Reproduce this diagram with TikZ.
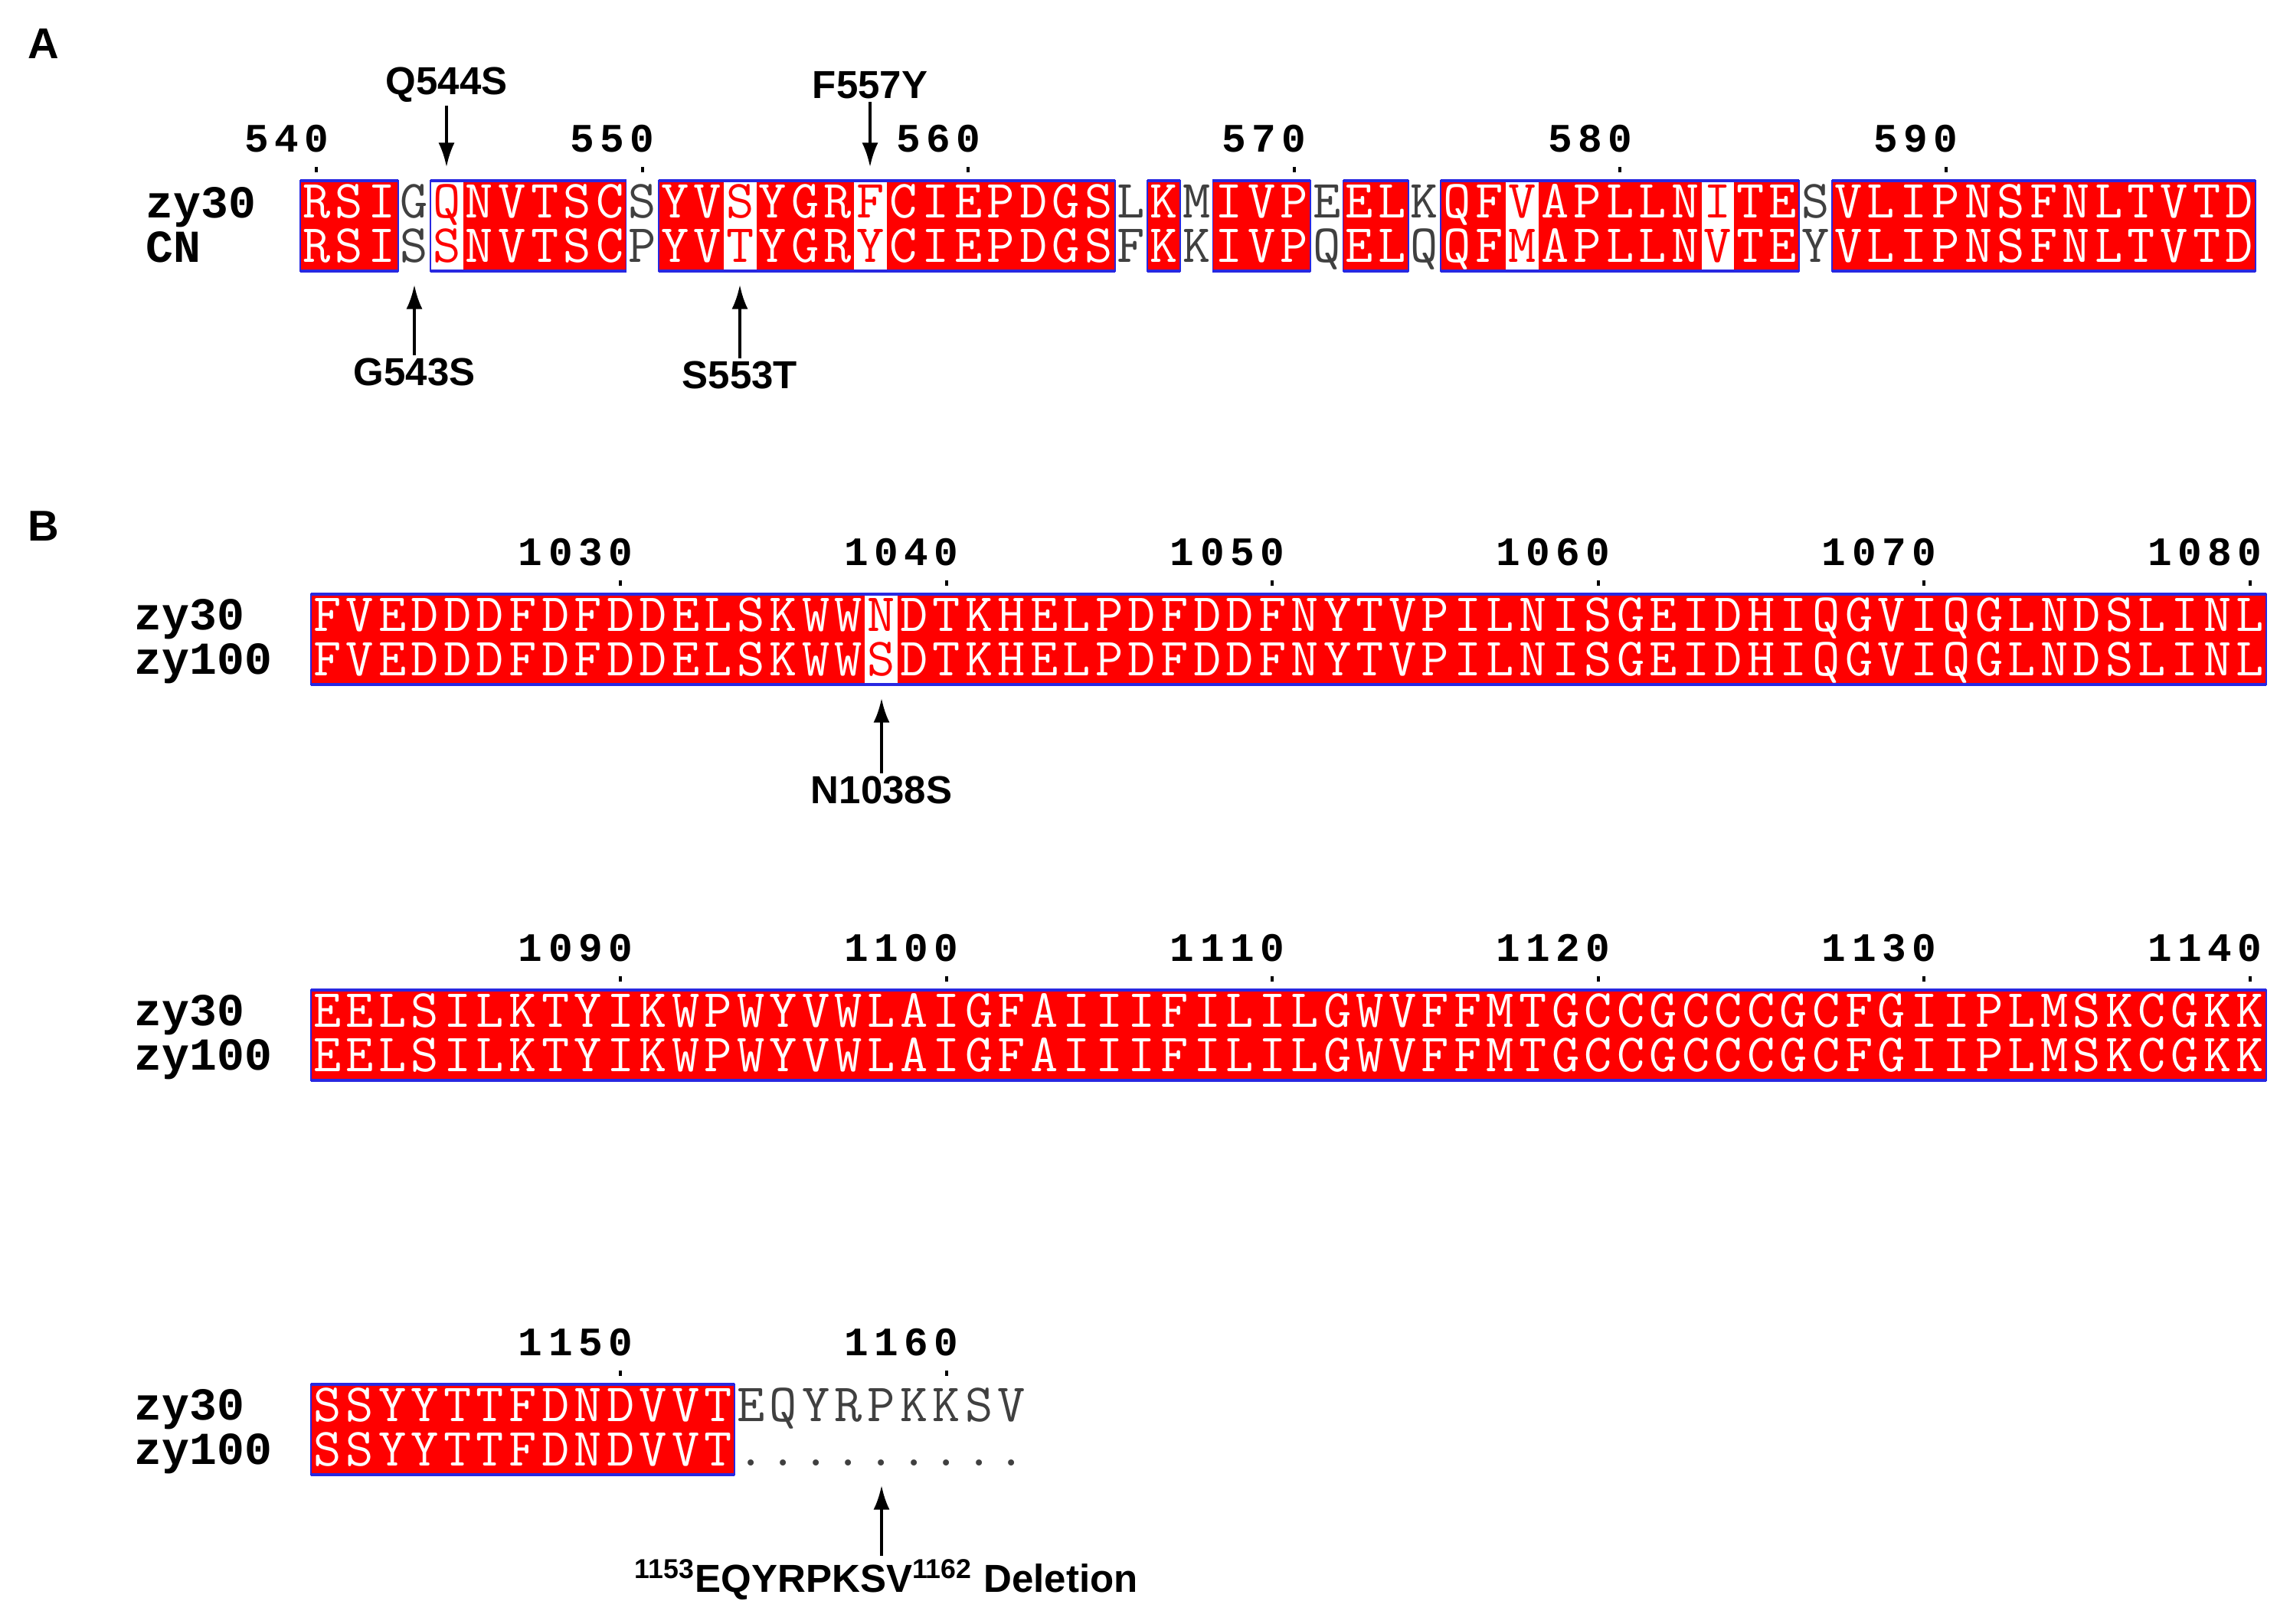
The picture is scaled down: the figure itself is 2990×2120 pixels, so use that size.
\documentclass[tikz,border=0pt]{standalone}
\usepackage{fontspec}
\setmainfont{Liberation Sans}
\newfontfamily\seqb{Liberation Mono}
\usetikzlibrary{arrows.meta}
\definecolor{espred}{RGB}{255,0,0}
\definecolor{espblue}{RGB}{40,40,225}
\newcommand\sqfont{\ttfamily\fontsize{20}{20}\selectfont}
\def\cw{42.55}
\tikzset{
  fillr/.style={fill=espred},
  fillw/.style={fill=white},
  filln/.style={fill=white},
  letbase/.style={anchor=base,inner sep=0pt,text height=9pt,text depth=0pt,font=\sqfont},
  letr/.style={letbase,text=white},
  letw/.style={letbase,text=espred},
  letn/.style={letbase,text=black!75},
  gside/.style={draw=espblue,line width=0.5pt},
  gtb/.style={draw=espblue,line width=1.3pt},
  numf/.style={anchor=base,inner sep=0pt,font=\seqb\bfseries\fontsize{15}{15}\selectfont},
  seqname/.style={anchor=base west,inner sep=0pt,text height=10pt,text depth=0pt,font=\seqb\bfseries\fontsize{17}{17}\selectfont},
  mutlab/.style={inner sep=1pt,font=\bfseries\fontsize{14.5}{14.5}\selectfont},
  panlab/.style={inner sep=0pt,font=\bfseries\fontsize{16}{16}\selectfont},
  arr/.style={-{Latex[length=9pt,width=6pt]},line width=1.1pt}
}
\newcommand\cellrow[4]{%
  \foreach \a/\b/\t [count=\i from 0] in {#4}{
    \pgfmathsetmacro\xl{#2+\cw*\i}
    \fill[fill\t] (\xl,#3) rectangle ++(\cw,118);
    \node[let\t] (#1t\i) at (\xl+\cw/2,#3+48) {\a};
    \node[let\t] (#1b\i) at (\xl+\cw/2,#3+106) {\b};
  }}
\newcommand\samerow[4]{%
  \foreach \a [count=\i from 0] in {#4}{
    \pgfmathsetmacro\xl{#2+\cw*\i}
    \fill[fillr] (\xl,#3) rectangle ++(\cw,118);
    \node[letr] (#1t\i) at (\xl+\cw/2,#3+48) {\a};
    \node[letr] (#1b\i) at (\xl+\cw/2,#3+106) {\a};
  }}
\newcommand\grp[4]{%
  \draw[gside] ({#1+\cw*#3},#2) rectangle ({#1+\cw*(#4+1)},#2+118);
  \draw[gtb] ({#1+\cw*#3},#2) -- ({#1+\cw*(#4+1)},#2);
  \draw[gtb] ({#1+\cw*#3},#2+118) -- ({#1+\cw*(#4+1)},#2+118);}
% #1 name, #2 x0, #3 col, #4 y, #5 digits, #6 count
\newcommand\numtick[6]{%
  \foreach \d [count=\k] in {#5}{
    \node[numf] (#1d\k) at ({#2+\cw*(#3+0.5)-0.92*\cw*(#6-\k)},#4) {\d};}
  \fill ({#2+\cw*(#3+0.5)-2},#4+20) rectangle ++(4,7);}
\begin{document}
\begin{tikzpicture}[x=0.01cm,y=-0.01cm]
\useasboundingbox (0,0) rectangle (2990,2120);
% ---------- Panel A
\node[panlab] (labA) at (57,57) {A};
\cellrow{A}{392}{236}{R/R/r,S/S/r,I/I/r,G/S/n,Q/S/w,N/N/r,V/V/r,T/T/r,S/S/r,C/C/r,S/P/n,Y/Y/r,V/V/r,S/T/w,Y/Y/r,G/G/r,R/R/r,F/Y/w,C/C/r,I/I/r,E/E/r,P/P/r,D/D/r,G/G/r,S/S/r,L/F/n,K/K/r,M/K/n,I/I/r,V/V/r,P/P/r,E/Q/n,E/E/r,L/L/r,K/Q/n,Q/Q/r,F/F/r,V/M/w,A/A/r,P/P/r,L/L/r,L/L/r,N/N/r,I/V/w,T/T/r,E/E/r,S/Y/n,V/V/r,L/L/r,I/I/r,P/P/r,N/N/r,S/S/r,F/F/r,N/N/r,L/L/r,T/T/r,V/V/r,T/T/r,D/D/r}
\grp{392}{236}{0}{2}\grp{392}{236}{4}{9}\grp{392}{236}{11}{24}\grp{392}{236}{26}{26}
\grp{392}{236}{28}{30}\grp{392}{236}{32}{33}\grp{392}{236}{35}{45}\grp{392}{236}{47}{59}
\node[seqname] (An1) at (190,284) {zy30};
\node[seqname] (An2) at (190,342) {CN};
\numtick{An540}{392}{0}{198}{5,4,0}{3}
\numtick{An550}{392}{10}{198}{5,5,0}{3}
\numtick{An560}{392}{20}{198}{5,6,0}{3}
\numtick{An570}{392}{30}{198}{5,7,0}{3}
\numtick{An580}{392}{40}{198}{5,8,0}{3}
\numtick{An590}{392}{50}{198}{5,9,0}{3}
\node[mutlab] (mQ) at (583,111) {Q544S};
\coordinate (mQe) at (583,218);
\draw[arr] (mQ.south) -- (mQe);
\node[mutlab] (mF) at (1136,111) {F557Y};
\coordinate (mFe) at (1136,218);
\draw[arr] (mF.south) -- (mFe);
\node[mutlab] (mG) at (541,486) {G543S};
\coordinate (mGe) at (541,372);
\draw[arr] (mG.north) -- (mGe);
\node[mutlab] (mS) at (966,490) {S553T};
\coordinate (mSe) at (966,372);
\draw[arr] (mS.north) -- (mSe);
% ---------- Panel B, block 1
\node[panlab] (labB) at (57,687) {B};
\cellrow{B}{406}{776}{F/F/r,V/V/r,E/E/r,D/D/r,D/D/r,D/D/r,F/F/r,D/D/r,F/F/r,D/D/r,D/D/r,E/E/r,L/L/r,S/S/r,K/K/r,W/W/r,W/W/r,N/S/w,D/D/r,T/T/r,K/K/r,H/H/r,E/E/r,L/L/r,P/P/r,D/D/r,F/F/r,D/D/r,D/D/r,F/F/r,N/N/r,Y/Y/r,T/T/r,V/V/r,P/P/r,I/I/r,L/L/r,N/N/r,I/I/r,S/S/r,G/G/r,E/E/r,I/I/r,D/D/r,H/H/r,I/I/r,Q/Q/r,G/G/r,V/V/r,I/I/r,Q/Q/r,G/G/r,L/L/r,N/N/r,D/D/r,S/S/r,L/L/r,I/I/r,N/N/r,L/L/r}
\grp{406}{776}{0}{59}
\node[seqname] (Bn1) at (175,822) {zy30};
\node[seqname] (Bn2) at (175,880) {zy100};
\numtick{B1030}{406}{9}{738}{1,0,3,0}{4}
\numtick{B1040}{406}{19}{738}{1,0,4,0}{4}
\numtick{B1050}{406}{29}{738}{1,0,5,0}{4}
\numtick{B1060}{406}{39}{738}{1,0,6,0}{4}
\numtick{B1070}{406}{49}{738}{1,0,7,0}{4}
\numtick{B1080}{406}{59}{738}{1,0,8,0}{4}
\node[mutlab] (mN) at (1151,1032) {N1038S};
\coordinate (mNe) at (1151,912);
\draw[arr] (mN.north) -- (mNe);
% ---------- block 2
\samerow{C}{406}{1293}{E,E,L,S,I,L,K,T,Y,I,K,W,P,W,Y,V,W,L,A,I,G,F,A,I,I,I,F,I,L,I,L,G,W,V,F,F,M,T,G,C,C,G,C,C,C,G,C,F,G,I,I,P,L,M,S,K,C,G,K,K}
\grp{406}{1293}{0}{59}
\node[seqname] (Cn1) at (175,1339) {zy30};
\node[seqname] (Cn2) at (175,1397) {zy100};
\numtick{C1090}{406}{9}{1255}{1,0,9,0}{4}
\numtick{C1100}{406}{19}{1255}{1,1,0,0}{4}
\numtick{C1110}{406}{29}{1255}{1,1,1,0}{4}
\numtick{C1120}{406}{39}{1255}{1,1,2,0}{4}
\numtick{C1130}{406}{49}{1255}{1,1,3,0}{4}
\numtick{C1140}{406}{59}{1255}{1,1,4,0}{4}
% ---------- block 3
\cellrow{D}{406}{1808}{S/S/r,S/S/r,Y/Y/r,Y/Y/r,T/T/r,T/T/r,F/F/r,D/D/r,N/N/r,D/D/r,V/V/r,V/V/r,T/T/r,E/./n,Q/./n,Y/./n,R/./n,P/./n,K/./n,K/./n,S/./n,V/./n}
\grp{406}{1808}{0}{12}
\node[seqname] (Dn1) at (175,1854) {zy30};
\node[seqname] (Dn2) at (175,1912) {zy100};
\numtick{D1150}{406}{9}{1770}{1,1,5,0}{4}
\numtick{D1160}{406}{19}{1770}{1,1,6,0}{4}
\node[mutlab] (mD) at (1157,2063) {\textsuperscript{1153}EQYRPKSV\textsuperscript{1162} Deletion};
\coordinate (mDe) at (1151,1940);
\draw[arr] (mD.north -| mDe) -- (mDe);
\end{tikzpicture}
\end{document}
